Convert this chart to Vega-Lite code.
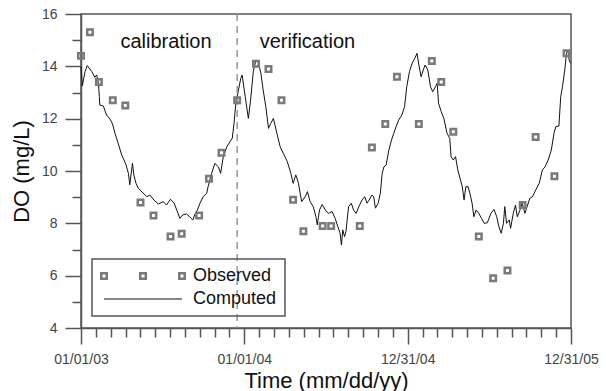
{
  "$schema": "https://vega.github.io/schema/vega-lite/v6.json",
  "width": 490,
  "height": 314,
  "autosize": {"type": "none"},
  "padding": {"left": 81, "top": 14, "right": 35, "bottom": 63},
  "datasets": {
    "computed": [
      {"day": 0, "DO": 13.99}, {"day": 3, "DO": 13.25}, {"day": 9, "DO": 13.8}, {"day": 14, "DO": 14.03},
      {"day": 24, "DO": 13.8}, {"day": 31, "DO": 13.58}, {"day": 35, "DO": 13.67}, {"day": 39, "DO": 13.35},
      {"day": 41, "DO": 12.84}, {"day": 42, "DO": 12.52}, {"day": 50, "DO": 12.48}, {"day": 57, "DO": 12.14},
      {"day": 65, "DO": 11.98}, {"day": 70, "DO": 11.82}, {"day": 76, "DO": 11.44}, {"day": 83, "DO": 11.06},
      {"day": 91, "DO": 10.61}, {"day": 96, "DO": 10.42}, {"day": 100, "DO": 10.27}, {"day": 106, "DO": 9.91},
      {"day": 109, "DO": 9.47}, {"day": 115, "DO": 10.3}, {"day": 118, "DO": 9.85}, {"day": 123, "DO": 9.53},
      {"day": 128, "DO": 9.34}, {"day": 132, "DO": 9.27}, {"day": 147, "DO": 9.02}, {"day": 154, "DO": 9.08},
      {"day": 163, "DO": 8.89}, {"day": 173, "DO": 8.74}, {"day": 184, "DO": 8.83}, {"day": 191, "DO": 8.7},
      {"day": 200, "DO": 8.92}, {"day": 208, "DO": 8.77}, {"day": 214, "DO": 8.51}, {"day": 221, "DO": 8.19},
      {"day": 227, "DO": 8.32}, {"day": 236, "DO": 8.36}, {"day": 244, "DO": 8.23}, {"day": 250, "DO": 8.13},
      {"day": 255, "DO": 8.36}, {"day": 260, "DO": 8.51}, {"day": 266, "DO": 8.77}, {"day": 273, "DO": 9.02},
      {"day": 281, "DO": 9.15}, {"day": 284, "DO": 9.4}, {"day": 292, "DO": 9.91}, {"day": 299, "DO": 10.29},
      {"day": 307, "DO": 10.16}, {"day": 312, "DO": 9.91}, {"day": 318, "DO": 10.55}, {"day": 326, "DO": 10.93},
      {"day": 333, "DO": 11.12}, {"day": 338, "DO": 11.25}, {"day": 342, "DO": 11.82}, {"day": 346, "DO": 12.59},
      {"day": 352, "DO": 13.1}, {"day": 357, "DO": 13.54}, {"day": 360, "DO": 13.67}, {"day": 367, "DO": 12.84},
      {"day": 374, "DO": 12.01}, {"day": 379, "DO": 12.71}, {"day": 385, "DO": 13.8}, {"day": 391, "DO": 14.24},
      {"day": 396, "DO": 14.18}, {"day": 402, "DO": 13.73}, {"day": 407, "DO": 13.1}, {"day": 413, "DO": 12.46},
      {"day": 419, "DO": 11.63}, {"day": 424, "DO": 11.82}, {"day": 430, "DO": 12.01}, {"day": 436, "DO": 11.57},
      {"day": 445, "DO": 10.93}, {"day": 452, "DO": 10.68}, {"day": 461, "DO": 10.36}, {"day": 469, "DO": 9.91},
      {"day": 474, "DO": 9.53}, {"day": 480, "DO": 9.85}, {"day": 486, "DO": 9.53}, {"day": 493, "DO": 8.83},
      {"day": 501, "DO": 9.02}, {"day": 506, "DO": 9.21}, {"day": 512, "DO": 8.83}, {"day": 519, "DO": 8.64},
      {"day": 525, "DO": 8.25}, {"day": 528, "DO": 7.94}, {"day": 533, "DO": 8.51}, {"day": 539, "DO": 8.72},
      {"day": 546, "DO": 8.51}, {"day": 553, "DO": 8.38}, {"day": 561, "DO": 8.45}, {"day": 568, "DO": 8.19},
      {"day": 574, "DO": 7.87}, {"day": 579, "DO": 7.62}, {"day": 582, "DO": 7.17}, {"day": 585, "DO": 7.75},
      {"day": 589, "DO": 7.49}, {"day": 592, "DO": 7.68}, {"day": 598, "DO": 8.64}, {"day": 604, "DO": 8.77},
      {"day": 609, "DO": 8.51}, {"day": 615, "DO": 8.38}, {"day": 621, "DO": 8.64}, {"day": 628, "DO": 8.89},
      {"day": 634, "DO": 9.02}, {"day": 639, "DO": 8.77}, {"day": 644, "DO": 8.89}, {"day": 650, "DO": 9.08},
      {"day": 654, "DO": 9.02}, {"day": 658, "DO": 8.58}, {"day": 664, "DO": 8.77}, {"day": 669, "DO": 9.15},
      {"day": 673, "DO": 9.91}, {"day": 677, "DO": 10.16}, {"day": 682, "DO": 10.23}, {"day": 688, "DO": 10.8},
      {"day": 694, "DO": 11.19}, {"day": 699, "DO": 11.44}, {"day": 704, "DO": 11.69}, {"day": 710, "DO": 11.95},
      {"day": 717, "DO": 12.14}, {"day": 723, "DO": 12.46}, {"day": 728, "DO": 13.22}, {"day": 734, "DO": 13.8},
      {"day": 740, "DO": 14.12}, {"day": 746, "DO": 14.31}, {"day": 751, "DO": 14.5}, {"day": 755, "DO": 14.05},
      {"day": 760, "DO": 13.6}, {"day": 766, "DO": 13.92}, {"day": 769, "DO": 14.05}, {"day": 775, "DO": 13.86},
      {"day": 781, "DO": 13.22}, {"day": 786, "DO": 13.03}, {"day": 792, "DO": 13.22}, {"day": 796, "DO": 13.35},
      {"day": 799, "DO": 12.59}, {"day": 805, "DO": 12.27}, {"day": 811, "DO": 12.0}, {"day": 818, "DO": 11.44},
      {"day": 824, "DO": 11.25}, {"day": 827, "DO": 10.55}, {"day": 832, "DO": 10.42}, {"day": 837, "DO": 10.55},
      {"day": 842, "DO": 10.04}, {"day": 848, "DO": 9.66}, {"day": 852, "DO": 9.4}, {"day": 856, "DO": 8.89},
      {"day": 860, "DO": 9.4}, {"day": 865, "DO": 9.4}, {"day": 869, "DO": 9.15}, {"day": 874, "DO": 8.77},
      {"day": 878, "DO": 8.25}, {"day": 883, "DO": 8.51}, {"day": 889, "DO": 8.38}, {"day": 895, "DO": 8.19},
      {"day": 901, "DO": 8.0}, {"day": 908, "DO": 8.02}, {"day": 916, "DO": 8.38}, {"day": 923, "DO": 8.53},
      {"day": 929, "DO": 8.25}, {"day": 934, "DO": 7.87}, {"day": 939, "DO": 7.62}, {"day": 944, "DO": 8.0},
      {"day": 947, "DO": 8.64}, {"day": 951, "DO": 8.0}, {"day": 957, "DO": 8.13}, {"day": 960, "DO": 7.81},
      {"day": 966, "DO": 8.38}, {"day": 971, "DO": 8.7}, {"day": 975, "DO": 8.25}, {"day": 981, "DO": 8.51},
      {"day": 986, "DO": 8.77}, {"day": 992, "DO": 8.38}, {"day": 997, "DO": 8.64}, {"day": 1003, "DO": 8.96},
      {"day": 1009, "DO": 9.02}, {"day": 1016, "DO": 9.27}, {"day": 1024, "DO": 9.53}, {"day": 1031, "DO": 10.04},
      {"day": 1037, "DO": 10.16}, {"day": 1044, "DO": 10.42}, {"day": 1051, "DO": 10.8}, {"day": 1057, "DO": 11.44},
      {"day": 1061, "DO": 11.69}, {"day": 1068, "DO": 11.72}, {"day": 1072, "DO": 12.84}, {"day": 1076, "DO": 13.22},
      {"day": 1081, "DO": 13.86}, {"day": 1085, "DO": 14.5}, {"day": 1088, "DO": 14.62}, {"day": 1091, "DO": 14.24},
      {"day": 1094, "DO": 14.12}
    ],
    "observed": [
      {"day": 0, "DO": 14.4}, {"day": 20, "DO": 15.3}, {"day": 40, "DO": 13.4}, {"day": 71, "DO": 12.7},
      {"day": 99, "DO": 12.5}, {"day": 133, "DO": 8.8}, {"day": 162, "DO": 8.3}, {"day": 200, "DO": 7.5},
      {"day": 225, "DO": 7.6}, {"day": 264, "DO": 8.3}, {"day": 286, "DO": 9.7}, {"day": 314, "DO": 10.7},
      {"day": 349, "DO": 12.7}, {"day": 391, "DO": 14.1}, {"day": 419, "DO": 13.9}, {"day": 448, "DO": 12.7},
      {"day": 474, "DO": 8.9}, {"day": 497, "DO": 7.7}, {"day": 540, "DO": 7.9}, {"day": 559, "DO": 7.9},
      {"day": 623, "DO": 7.9}, {"day": 650, "DO": 10.9}, {"day": 680, "DO": 11.8}, {"day": 706, "DO": 13.6},
      {"day": 755, "DO": 11.8}, {"day": 784, "DO": 14.2}, {"day": 805, "DO": 13.4}, {"day": 832, "DO": 11.5},
      {"day": 889, "DO": 7.5}, {"day": 921, "DO": 5.9}, {"day": 953, "DO": 6.2}, {"day": 987, "DO": 8.7},
      {"day": 1016, "DO": 11.3}, {"day": 1058, "DO": 9.8}, {"day": 1085, "DO": 14.5}
    ]
  },
  "layer": [
    {
      "data": {"name": "computed"},
      "mark": {"type": "line", "strokeWidth": 1, "interpolate": "linear"},
      "encoding": {
        "x": {
          "field": "day", "type": "quantitative",
          "scale": {"domain": [0, 1095], "nice": false, "zero": false},
          "axis": {
            "title": "Time (mm/dd/yy)",
            "tickCount": 100,
            "values": [0, 33.18, 66.36, 99.55, 132.73, 165.91, 199.09, 232.27, 265.45, 298.64, 331.82, 365,
                       398.18, 431.36, 464.55, 497.73, 530.91, 564.09, 597.27, 630.45, 663.64, 696.82, 730,
                       763.18, 796.36, 829.55, 862.73, 895.91, 929.09, 962.27, 995.45, 1028.64, 1061.82, 1095],
            "labelExpr": "datum.value == 0 ? '01/01/03' : datum.value == 365 ? '01/01/04' : datum.value == 730 ? '12/31/04' : datum.value == 1095 ? '12/31/05' : ''",
            "tickSize": {"condition": {"test": "datum.value == 0 || datum.value == 365 || datum.value == 730 || datum.value == 1095", "value": 16}, "value": 9},
            "labelPadding": 8,
            "titlePadding": 4
          }
        },
        "y": {
          "field": "DO", "type": "quantitative",
          "scale": {"domain": [4, 16], "nice": false, "zero": false},
          "axis": {
            "title": "DO (mg/L)",
            "tickCount": 100,
            "format": "d",
            "values": [4, 5, 6, 7, 8, 9, 10, 11, 12, 13, 14, 15, 16],
            "labelExpr": "datum.value % 2 == 0 ? datum.label : ''",
            "tickSize": {"condition": {"test": "datum.value % 2 == 0", "value": 16}, "value": 9},
            "labelPadding": 8,
            "titlePadding": 8
          }
        },
        "color": {
          "datum": "Computed",
          "scale": {"domain": ["Observed", "Computed"], "range": ["#7a7a7a", "#111111"]},
          "legend": {
            "title": null,
            "orient": "none",
            "legendX": 11,
            "legendY": 245,
            "padding": 8,
            "symbolSize": 324,
            "rowPadding": 5,
            "symbolOffset": 34,
            "labelOffset": 41,
            "labelFont": "Liberation Sans",
            "labelFontSize": 18,
            "labelColor": "#111111",
            "strokeColor": "#555555",
            "encode": {
              "symbols": {
                "update": {
                  "shape": {"signal": "datum.value === 'Observed' ? 'M-4.64,-0.31H-4.03V0.31H-4.64Z M-0.31,-0.31H0.31V0.31H-0.31Z M4.03,-0.31H4.64V0.31H4.03Z' : 'M-4.33,0H4.33'"},
                  "stroke": {"signal": "datum.value === 'Observed' ? '#7a7a7a' : '#222222'"},
                  "strokeWidth": {"signal": "datum.value === 'Observed' ? 2.5 : 1"},
                  "fill": {"value": "transparent"},
                  "opacity": {"value": 1}
                }
              },
              "legend": {
                "update": {
                  "stroke": {"value": "#555555"},
                  "strokeWidth": {"value": 1.5}
                }
              }
            }
          }
        }
      }
    },
    {
      "data": {"values": [{}]},
      "mark": {"type": "rule", "color": "#999999", "strokeWidth": 1.5, "strokeDash": [7, 5]},
      "encoding": {"x": {"datum": 349, "type": "quantitative"}}
    },
    {
      "data": {"name": "observed"},
      "mark": {"type": "point", "shape": "square", "filled": false, "size": 30, "strokeWidth": 2.5, "opacity": 1},
      "encoding": {
        "x": {"field": "day", "type": "quantitative"},
        "y": {"field": "DO", "type": "quantitative"},
        "color": {"datum": "Observed"}
      }
    },
    {
      "data": {"values": [{}]},
      "mark": {"type": "text", "font": "Liberation Sans", "fontSize": 20, "color": "#111111", "baseline": "middle", "align": "center"},
      "encoding": {
        "x": {"datum": 190, "type": "quantitative"},
        "y": {"datum": 14.93, "type": "quantitative"},
        "text": {"value": "calibration"}
      }
    },
    {
      "data": {"values": [{}]},
      "mark": {"type": "text", "font": "Liberation Sans", "fontSize": 20, "color": "#111111", "baseline": "middle", "align": "center"},
      "encoding": {
        "x": {"datum": 506, "type": "quantitative"},
        "y": {"datum": 14.93, "type": "quantitative"},
        "text": {"value": "verification"}
      }
    }
  ],
  "config": {
    "view": {"stroke": "#555555", "strokeWidth": 1.5},
    "axis": {
      "grid": false,
      "domainColor": "#555555",
      "domainWidth": 1.5,
      "tickColor": "#555555",
      "tickWidth": 1.5,
      "labelFont": "Liberation Sans",
      "labelFontSize": 14,
      "labelColor": "#444444",
      "labelFlush": false,
      "labelOverlap": false,
      "titleFont": "Liberation Sans",
      "titleFontSize": 22,
      "titleFontWeight": "normal",
      "titleColor": "#111111"
    }
  }
}
